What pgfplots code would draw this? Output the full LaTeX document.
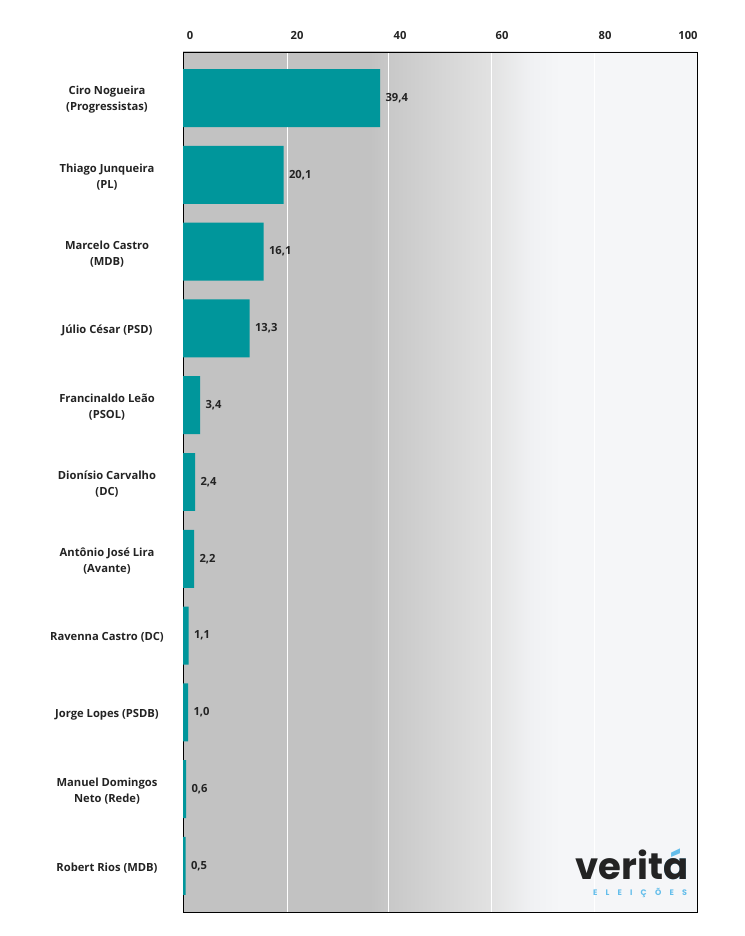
\documentclass[border=0pt]{standalone}
\usepackage{fontspec}
\setmainfont{Open Sans}[UprightFont={* Bold}]
\newfontfamily\logofont{Poppins}
\usepackage{pgfplots}
\pgfplotsset{compat=1.18}
\usepackage{pgfplotstable}
\definecolor{barteal}{RGB}{0,150,155}
\definecolor{textdark}{RGB}{35,35,35}
\definecolor{logoblue}{RGB}{100,190,235}
\definecolor{bgA}{RGB}{194,194,194}
\definecolor{bgB}{RGB}{200,200,200}
\definecolor{bgC}{RGB}{226,226,226}
\definecolor{bgD}{RGB}{240,241,243}
\definecolor{bgE}{RGB}{245,246,248}
\pgfdeclarehorizontalshading{bgshade}{100bp}{color(0bp)=(bgA); color(43.2bp)=(bgA); color(45bp)=(bgB); color(55bp)=(bgC); color(58.8bp)=(bgD); color(61.7bp)=(bgE); color(100bp)=(bgE)}

\pgfplotstableread{
y x
0 39.4
1 20.1
2 16.1
3 13.3
4 3.4
5 2.4
6 2.2
7 1.1
8 1.0
9 0.6
10 0.5
}\datatable

\begin{document}
\begin{tikzpicture}
\useasboundingbox (0,0) rectangle (744pt,936pt);
\begin{axis}[
  at={(183pt,24pt)}, anchor=south west,
  scale only axis, width=514pt, height=860pt,
  xmin=0, xmax=102.8, ymin=-0.6, ymax=10.6,
  y dir=reverse,
  xbar, bar width=0.755,
  axis background/.style={shade, shading=bgshade},
  axis line style={black, line width=0.9pt},
  major tick length=0pt,
  xtick={20.8,41.0,61.6,82.2}, xticklabels={},
  xmajorgrids, major grid style={white, line width=0.9pt},
  extra x ticks={1.4,22.8,43.4,63.8,84.4,101.0},
  extra x tick labels={0,20,40,60,80,100},
  extra x tick style={grid=none},
  xticklabel pos=upper,
  xticklabel style={yshift=9pt},
  ytick={0,...,10},
  yticklabels={{Ciro Nogueira\\(Progressistas)},{Thiago Junqueira\\(PL)},{Marcelo Castro\\(MDB)},{Júlio César (PSD)},{Francinaldo Leão\\(PSOL)},{Dionísio Carvalho\\(DC)},{Antônio José Lira\\(Avante)},{Ravenna Castro (DC)},{Jorge Lopes (PSDB)},{Manuel Domingos\\Neto (Rede)},{Robert Rios (MDB)}},
  yticklabel style={anchor=center, align=center, xshift=-76pt, yshift=-2pt},
  every tick label/.append style={font=\fontsize{11.2}{16}\selectfont, text=textdark},
  point meta=x,
  nodes near coords={\pgfmathprintnumber[fixed,fixed zerofill,precision=1,use comma,assume math mode=true]{\pgfplotspointmeta}},
  nodes near coords style={font=\fontsize{11.2}{14}\selectfont, text=textdark, anchor=west, xshift=2pt},
  clip=false,
]
\addplot[fill=barteal, draw=none] table[x=x, y=y]{\datatable};
\end{axis}
\node[anchor=base, text=textdark, inner sep=0pt] at (632pt,56pt) {\logofont\bfseries\fontsize{37}{40}\selectfont verit\rlap{\color{logoblue}á}a};
\node[anchor=base, text=logoblue, inner sep=0pt] at (640pt,40pt) {\logofont\bfseries\fontsize{8}{9}\selectfont\makebox[94pt][s]{E\hfil L\hfil E\hfil I\hfil Ç\hfil Õ\hfil E\hfil S}};
\end{tikzpicture}
\end{document}
